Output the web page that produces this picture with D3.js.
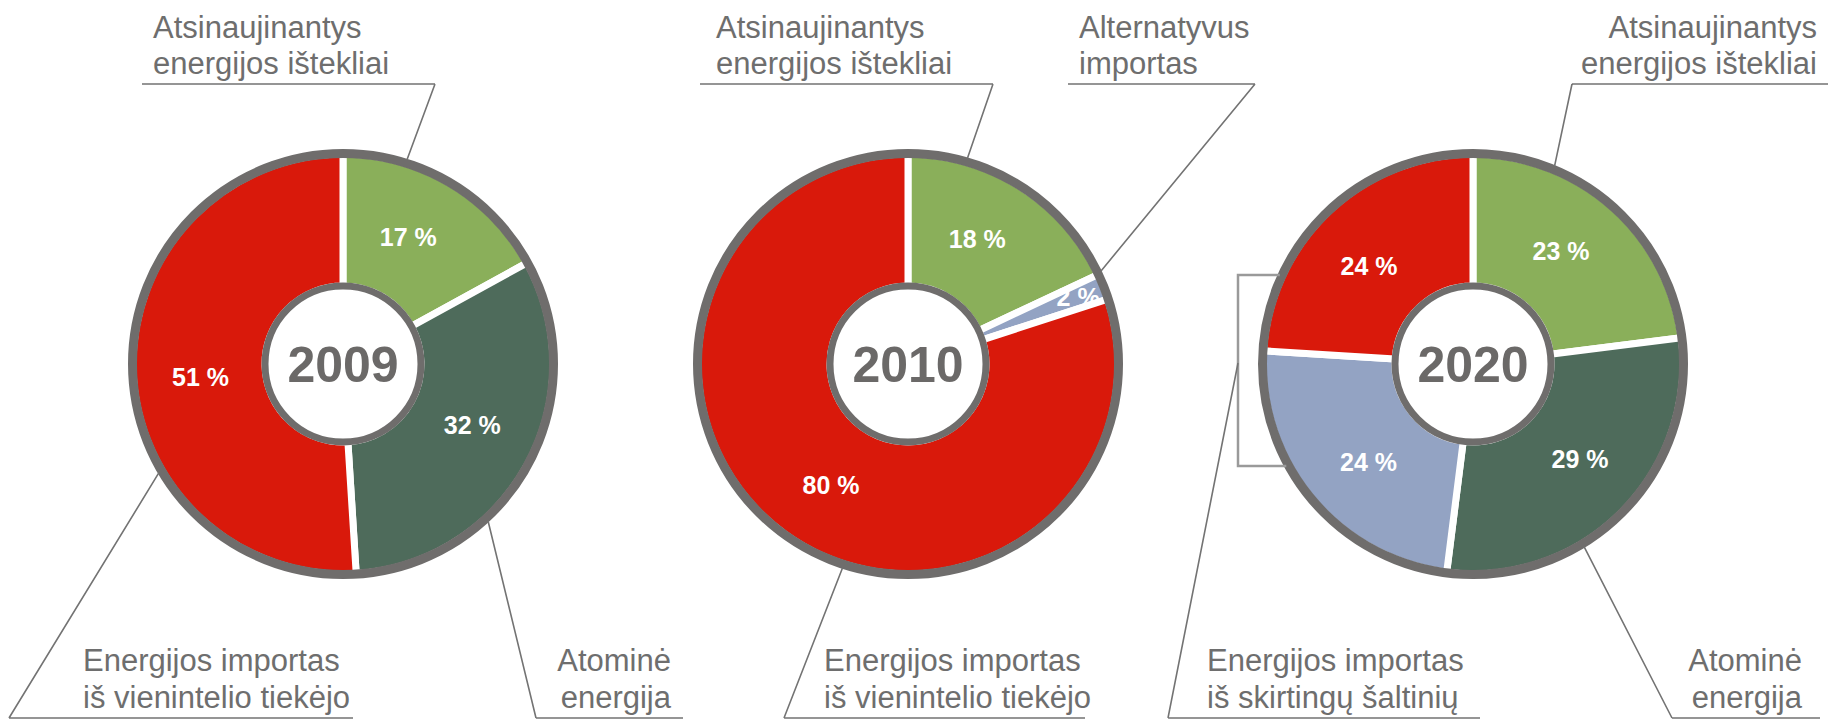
<!DOCTYPE html>
<html>
<head>
<meta charset="utf-8">
<script src="https://cdn.jsdelivr.net/npm/d3@7"></script>
<style>
  html, body { margin: 0; padding: 0; background: #fff; }
  svg { display: block; font-family: "Liberation Sans", Arial, sans-serif; }
</style>
</head>
<body>
<div id="chart"></div>
<script>
// Data
const years = ['2009', '2010', '2020'];
const categories = ['renewable', 'nuclear', 'altImport', 'singleImport'];
const values2009 = [17, 32, 0, 51];
const values2010 = [18, 0, 2, 80];
const values2020 = [23, 29, 24, 24];
const seriesValues = [values2009, values2010, values2020];

const colours = {
    renewable: '#8aaf5a',
    nuclear: '#4e6b5b',
    altImport: '#93a3c3',
    singleImport: '#d9190b'
};

const width = 1831;
const height = 721;
const centerY = 364;
const centersX = [343, 908, 1473];

const outerR = 210;
const innerR = 78;
const gray = '#6f6d6c';
const textGray = '#6e6e6e';

// Callout layout: ring angle (deg, clockwise from top) where the leader meets the donut
const callouts = [
    { chart: 0, lines: ['Atsinaujinantys', 'energijos ištekliai'], pos: 'top', x: 153, anchor: 'start', ul: [142, 435], elbow: 435, angle: 17.4 },
    { chart: 0, lines: ['Energijos importas', 'iš vienintelio tiekėjo'], pos: 'bottom', x: 83, anchor: 'start', ul: [9, 353], elbow: 9, angle: 239.4 },
    { chart: 0, lines: ['Atominė', 'energija'], pos: 'bottom', x: 671, anchor: 'end', ul: [536, 683], elbow: 536, angle: 137.3 },
    { chart: 1, lines: ['Atsinaujinantys', 'energijos ištekliai'], pos: 'top', x: 716, anchor: 'start', ul: [700, 993], elbow: 993, angle: 16.1 },
    { chart: 1, lines: ['Alternatyvus', 'importas'], pos: 'top', x: 1079, anchor: 'start', ul: [1068, 1255], elbow: 1255, angle: 64.3 },
    { chart: 1, lines: ['Energijos importas', 'iš vienintelio tiekėjo'], pos: 'bottom', x: 824, anchor: 'start', ul: [784, 1085], elbow: 784, angle: 197.8 },
    { chart: 2, lines: ['Atsinaujinantys', 'energijos ištekliai'], pos: 'top', x: 1817, anchor: 'end', ul: [1572, 1828], elbow: 1572, angle: 22.4 },
    { chart: 2, lines: ['Energijos importas', 'iš skirtingų šaltinių'], pos: 'bottom', x: 1207, anchor: 'start', ul: [1168, 1480], elbow: 1168, bracket: true },
    { chart: 2, lines: ['Atominė', 'energija'], pos: 'bottom', x: 1802, anchor: 'end', ul: [1672, 1820], elbow: 1672, angle: 148.7 }
];

// bracket grouping the two import slices of 2020
const bracket = { x: 1238, top: 275, bottom: 466, joinY: 363 };

const baselines = { top: [38, 74], bottom: [671, 708] };
const underlineY = { top: 84, bottom: 718 };

const svg = d3.select('#chart')
    .append('svg')
    .attr('width', width)
    .attr('height', height);

const pie = d3.pie().sort(null).value(d => d.value);
const arc = d3.arc().innerRadius(innerR).outerRadius(outerR);

function ringPoint(i, deg, r) {
    const a = deg * Math.PI / 180;
    return [centersX[i] + Math.sin(a) * r, centerY - Math.cos(a) * r];
}

years.forEach((year, i) => {
    const data = categories
        .map((c, k) => ({ cat: c, value: seriesValues[i][k] }))
        .filter(d => d.value > 0);

    const g = svg.append('g')
        .attr('transform', `translate(${centersX[i]},${centerY})`);

    const arcs = pie(data);

    g.selectAll('path.slice')
        .data(arcs)
        .enter()
        .append('path')
        .attr('class', 'slice')
        .attr('d', arc)
        .attr('fill', d => colours[d.data.cat])
        .attr('stroke', '#fff')
        .attr('stroke-width', 7)
        .attr('stroke-linejoin', 'miter');

    // outer and inner gray rings
    g.append('circle')
        .attr('r', outerR + 0.5)
        .attr('fill', 'none')
        .attr('stroke', gray)
        .attr('stroke-width', 9);

    g.append('circle')
        .attr('r', innerR)
        .attr('fill', '#fff')
        .attr('stroke', gray)
        .attr('stroke-width', 7);

    g.append('text')
        .attr('x', 0)
        .attr('y', 18)
        .attr('text-anchor', 'middle')
        .attr('font-size', 50)
        .attr('font-weight', 'bold')
        .attr('fill', '#6b6968')
        .text(year);

    // percentage labels, slightly pulled toward the slice start like the original
    g.selectAll('text.pct')
        .data(arcs)
        .enter()
        .append('text')
        .attr('class', 'pct')
        .attr('transform', d => {
            const small = d.data.value < 5;
            const mid = (d.startAngle + d.endAngle) / 2 - (small ? 0 : 0.06);
            const r = small ? 183 : 143;
            return `translate(${Math.sin(mid) * r},${-Math.cos(mid) * r})`;
        })
        .attr('text-anchor', 'middle')
        .attr('dy', '0.36em')
        .attr('font-size', 25)
        .attr('font-weight', 'bold')
        .attr('fill', '#fff')
        .text(d => `${d.data.value} %`);
});

// bracket
const bx0 = centersX[2] - Math.sqrt((outerR + 4.5) ** 2 - (bracket.top - centerY) ** 2);
const bx1 = centersX[2] - Math.sqrt((outerR + 4.5) ** 2 - (bracket.bottom - centerY) ** 2);
svg.append('path')
    .attr('d', `M${bx0 + 2},${bracket.top} H${bracket.x} V${bracket.bottom} H${bx1 + 2}`)
    .attr('fill', 'none')
    .attr('stroke', '#9a9a9a')
    .attr('stroke-width', 2.5);

// callouts
const lineG = svg.append('g');
callouts.forEach(c => {
    const uy = underlineY[c.pos];
    let start;
    if (c.bracket) {
        start = [bracket.x, bracket.joinY];
    } else {
        start = ringPoint(c.chart, c.angle, outerR + 4);
    }
    lineG.append('path')
        .attr('d', `M${start[0]},${start[1]} L${c.elbow},${uy} M${c.ul[0]},${uy} H${c.ul[1]}`)
        .attr('fill', 'none')
        .attr('stroke', '#737373')
        .attr('stroke-width', 1.6);

    const t = svg.append('text')
        .attr('text-anchor', c.anchor)
        .attr('font-size', 31)
        .attr('fill', textGray);
    c.lines.forEach((ln, k) => {
        t.append('tspan')
            .attr('x', c.x)
            .attr('y', baselines[c.pos][k])
            .text(ln);
    });
});
</script>
</body>
</html>
